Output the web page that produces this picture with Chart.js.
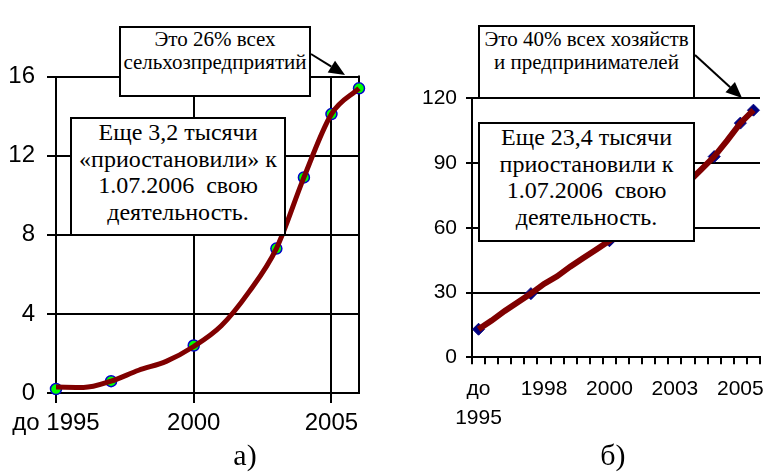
<!DOCTYPE html>
<html><head><meta charset="utf-8">
<script src="https://cdn.jsdelivr.net/npm/chart.js@4.4.1/dist/chart.umd.min.js"></script>
<style>
html,body{margin:0;padding:0;background:#fff;}
#root{position:relative;width:767px;height:473px;overflow:hidden;background:#fff;}
.pane{position:absolute;top:0;height:473px;}
.box{position:absolute;box-sizing:border-box;border:2px solid #000;background:#fff;text-align:center;font-family:"Liberation Serif","DejaVu Serif",serif;color:#000;white-space:pre;}
.cap{position:absolute;font-family:"Liberation Serif","DejaVu Serif",serif;font-size:30px;line-height:36px;text-align:center;color:#000;}
</style></head>
<body><div id="root">
<div class="pane" style="left:0;width:380px"><canvas id="ca" width="380" height="473"></canvas></div>
<div class="pane" style="left:380px;width:387px"><canvas id="cb" width="387" height="473"></canvas></div>
<div class="box" style="left:119px;top:26px;width:192px;height:71px;font-size:21px;line-height:23.3px;padding-top:0">Это 26% всех
сельхозпредприятий</div>
<div class="box" style="left:70px;top:117px;width:216px;height:119px;font-size:24px;line-height:26.5px;padding-top:0">Еще 3,2 тысячи
«приостановили» к
1.07.2006  свою
деятельность.</div>
<div class="box" style="left:478px;top:25px;width:217px;height:74px;font-size:21px;line-height:23.3px;padding-top:1px">Это 40% всех хозяйств
и предпринимателей</div>
<div class="box" style="left:478px;top:122px;width:217px;height:120px;font-size:24px;line-height:26.5px;padding-top:0">Еще 23,4 тысячи
приостановили к
1.07.2006  свою
деятельность.</div>
<div class="cap" style="left:205px;top:437px;width:80px">а)</div>
<div class="cap" style="left:573px;top:437px;width:80px">б)</div>
</div>
<script>
// ---- Chart a) ----
const yearsA = [1995, 1996, 1997, 1998, 1999, 2000, 2001, 2002, 2003, 2004, 2005, 2006];
const lineA = [0.3, 0.28, 0.6, 1.15, 1.6, 2.35, 3.4, 5.1, 7.3, 10.9, 14.1, 15.4];
const markerYearsA = [1995, 1997, 2000, 2003, 2004, 2005, 2006];
const markerA = [0.2, 0.6, 2.4, 7.3, 10.9, 14.1, 15.4];
const xTickValuesA = [1995, 2000, 2005];
const xTickLabelsA = ['до 1995', '2000', '2005'];

// ---- Chart б) ----
const categoriesB = [['до', '1995'], '', '', '', '', '1998', '', '', '', '', '2000', '', '', '', '', '2003', '', '', '', '', '2005', ''];
const lineB = [13, 17, 21.5, 25.5, 29.5, 34, 37.5, 42, 46, 50, 54, 58, 62.5, 67, 71.5, 76, 81, 87, 93, 100.5, 108.5, 114.5];
const markerB = [13, null, null, null, 29.5, null, null, null, null, null, 54, null, null, null, null, null, 81, null, 93, null, 108.5, 114.5];

Chart.defaults.font.family = 'Arial, "Liberation Sans", sans-serif';
Chart.defaults.color = '#000';

function drawArrow(ctx, x1, y1, x2, y2, len, hw) {
  const dx = x2 - x1, dy = y2 - y1, d = Math.hypot(dx, dy);
  const ux = dx / d, uy = dy / d;
  const bx = x2 - ux * len, by = y2 - uy * len;
  ctx.save();
  ctx.strokeStyle = '#000'; ctx.fillStyle = '#000'; ctx.lineWidth = 2;
  ctx.beginPath(); ctx.moveTo(x1, y1); ctx.lineTo(bx, by); ctx.stroke();
  ctx.beginPath();
  ctx.moveTo(x2, y2);
  ctx.lineTo(bx - uy * hw, by + ux * hw);
  ctx.lineTo(bx + uy * hw, by - ux * hw);
  ctx.closePath(); ctx.fill();
  ctx.restore();
}

const borderPluginA = {
  id: 'borderA',
  beforeDatasetsDraw(chart) {
    const a = chart.chartArea, ctx = chart.ctx;
    ctx.save(); ctx.strokeStyle = '#000'; ctx.lineWidth = 2;
    ctx.beginPath(); ctx.moveTo(Math.round(a.right), a.top - 1); ctx.lineTo(Math.round(a.right), a.bottom + 1); ctx.stroke();
    ctx.restore();
  },
  afterDraw(chart) { drawArrow(chart.ctx, 311, 54, 345, 75, 16, 7); }
};
const arrowPluginB = {
  id: 'arrowB',
  afterDraw(chart) { drawArrow(chart.ctx, 695 - 380, 55, 742 - 380, 98, 16, 7); }
};

new Chart(document.getElementById('ca'), {
  type: 'scatter',
  data: {
    datasets: [
      { data: yearsA.map((x, i) => ({ x, y: lineA[i] })), showLine: true, borderColor: '#800000', borderWidth: 5,
        pointRadius: 0, cubicInterpolationMode: 'monotone', clip: false, order: 0 },
      { data: markerYearsA.map((x, i) => ({ x, y: markerA[i] })), showLine: false, pointStyle: 'circle', pointRadius: 5.5,
        backgroundColor: '#00FF00', borderColor: '#0000CC', borderWidth: 1.5, clip: false, order: 1 }
    ]
  },
  options: {
    responsive: false, animation: false, devicePixelRatio: 1,
    layout: { padding: { left: 0, top: 76.5, right: 21, bottom: 0 } },
    plugins: { legend: { display: false }, tooltip: { enabled: false } },
    scales: {
      x: {
        type: 'linear', min: 1995, max: 2006,
        afterBuildTicks: s => { s.ticks = xTickValuesA.map(v => ({ value: v })); },
        afterFit: s => { s.height = 80; },
        ticks: { autoSkip: false, maxRotation: 0, padding: 6, font: { size: 24 },
          callback: v => { const i = xTickValuesA.indexOf(v); return i >= 0 ? xTickLabelsA[i] : ''; } },
        grid: { color: '#000', lineWidth: 2, tickLength: 10 },
        border: { color: '#000', width: 2 }
      },
      y: {
        min: 0, max: 16,
        afterFit: s => { s.width = 56; },
        ticks: { stepSize: 4, padding: 12, font: { size: 24 } },
        grid: { color: '#000', lineWidth: 2, tickLength: 9 },
        border: { color: '#000', width: 2 }
      }
    }
  },
  plugins: [borderPluginA]
});

new Chart(document.getElementById('cb'), {
  type: 'line',
  data: {
    labels: categoriesB,
    datasets: [
      { data: lineB, borderColor: '#800000', borderWidth: 6, pointRadius: 0, tension: 0, clip: false, order: 0 },
      { data: markerB, showLine: false, pointStyle: 'rectRot', pointRadius: 6, backgroundColor: '#000080',
        borderColor: '#000080', borderWidth: 1, clip: false, order: 1 }
    ]
  },
  options: {
    responsive: false, animation: false, devicePixelRatio: 1,
    layout: { padding: { left: 0, top: 98.3, right: 1, bottom: 0 } },
    plugins: { legend: { display: false }, tooltip: { enabled: false } },
    scales: {
      x: {
        offset: true,
        afterFit: s => { s.height = 473 - 357.3; },
        ticks: { autoSkip: false, maxRotation: 0, padding: 10, font: { size: 21, lineHeight: 1.4 } },
        grid: { offset: true, drawOnChartArea: false, color: '#000', lineWidth: 2, tickLength: 7 },
        border: { color: '#000', width: 2 }
      },
      y: {
        min: 0, max: 120,
        afterFit: s => { s.width = 92; },
        ticks: { stepSize: 30, padding: 9, font: { size: 21 } },
        grid: { color: '#000', lineWidth: 2, tickLength: 6 },
        border: { color: '#000', width: 2 }
      }
    }
  },
  plugins: [arrowPluginB]
});
</script>
</body></html>
